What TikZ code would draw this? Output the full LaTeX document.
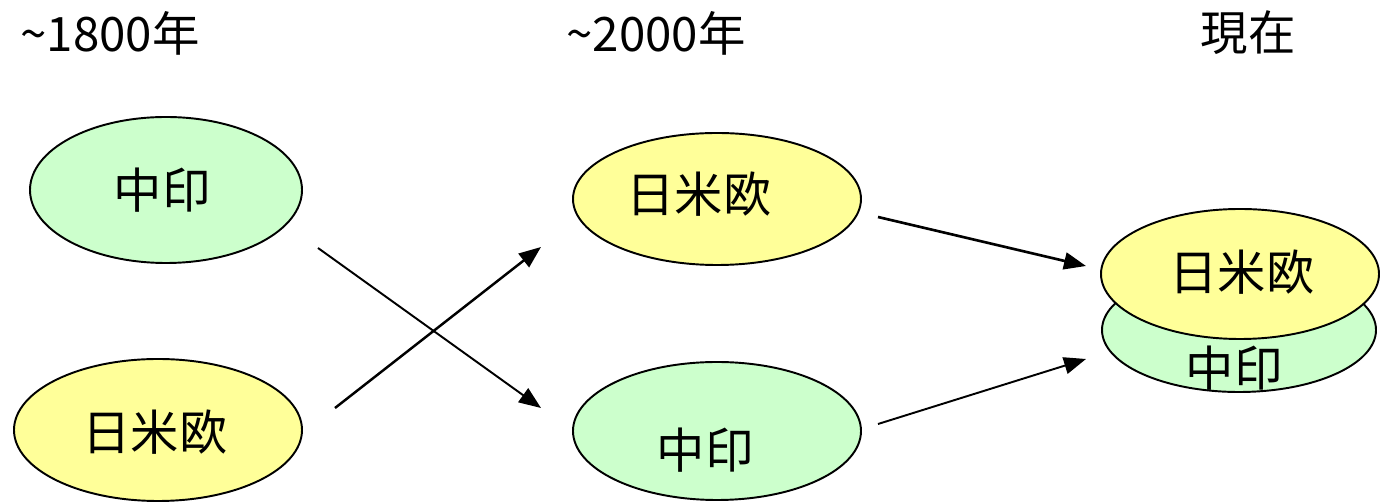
\documentclass[tikz,border=0pt]{standalone}
\usepackage{fontspec}
\setmainfont{Noto Sans CJK JP}
\usetikzlibrary{shapes.geometric,arrows.meta}
\definecolor{ylw}{HTML}{FFFF99}
\definecolor{grn}{HTML}{CCFFCC}
\tikzset{
  blob/.style={ellipse,draw=black,line width=1.1pt,inner sep=0pt},
  west/.style={blob,fill=ylw},
  east/.style={blob,fill=grn},
  txt/.style={font=\fontsize{27.5pt}{32pt}\selectfont,inner sep=0pt},
  era/.style={font=\fontsize{27pt}{32pt}\selectfont,inner sep=0pt},
  flow/.style={-{Triangle[length=0.44cm,width=0.34cm]},line width=1.1pt},
}
\begin{document}
\begin{tikzpicture}[x=0.02cm,y=-0.02cm]
\useasboundingbox (0,0) rectangle (1380,502);
\node[era] (t1) at (110,33) {\textasciitilde1800年};
\node[era] (t2) at (656,33) {\textasciitilde2000年};
\node[era] (t3) at (1248,33) {現在};
\node[east,minimum width=272*0.02cm,minimum height=146*0.02cm] (a1) at (166,190) {};
\node[txt] (a1t) at (162,190) {中印};
\node[west,minimum width=288*0.02cm,minimum height=142*0.02cm] (a2) at (158,430) {};
\node[txt] (a2t) at (155,432) {日米欧};
\node[west,minimum width=288*0.02cm,minimum height=132*0.02cm] (b1) at (717,199) {};
\node[txt] (b1t) at (699,194) {日米欧};
\node[east,minimum width=288*0.02cm,minimum height=138*0.02cm] (b2) at (717,431) {};
\node[txt] (b2t) at (705,450) {中印};
\node[east,minimum width=274*0.02cm,minimum height=124*0.02cm] (c2) at (1239,330) {};
\node[txt] (c2t) at (1234,368) {中印};
\node[west,minimum width=278*0.02cm,minimum height=130*0.02cm] (c1) at (1240,274) {};
\node[txt] (c1t) at (1242,272) {日米欧};
\coordinate (p1) at (318,248);
\coordinate (q1) at (541,408);
\coordinate (p2) at (335,408);
\coordinate (q2) at (541,247);
\coordinate (p3) at (878,217);
\coordinate (q3) at (1086,266);
\coordinate (p4) at (878,424);
\coordinate (q4) at (1086,359);
\draw[flow] (p1) -- (q1);
\draw[flow,line width=1.4pt] (p2) -- (q2);
\draw[flow,line width=1.5pt] (p3) -- (q3);
\draw[flow] (p4) -- (q4);
\end{tikzpicture}
\end{document}
